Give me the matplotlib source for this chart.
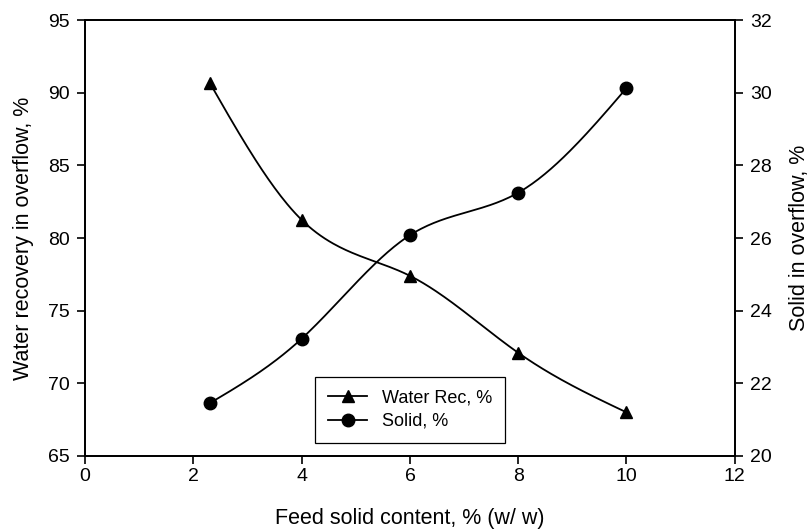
import numpy as np
import matplotlib
matplotlib.use('Agg')
import matplotlib.pyplot as plt
from matplotlib.lines import Line2D

# data
feed_solid = [2.3, 4.0, 6.0, 8.0, 10.0]
water_rec = [90.7, 81.25, 77.4, 72.1, 68.0]
solid_overflow = [21.45, 23.23, 26.08, 27.25, 30.13]


def spline_curve(x, y, n=200):
    """natural cubic spline through the points, for drawing the smooth line"""
    x = np.asarray(x, float)
    y = np.asarray(y, float)
    k = len(x)
    h = np.diff(x)
    A = np.zeros((k, k))
    b = np.zeros(k)
    A[0, 0] = A[-1, -1] = 1
    for i in range(1, k - 1):
        A[i, i - 1] = h[i - 1]
        A[i, i] = 2 * (h[i - 1] + h[i])
        A[i, i + 1] = h[i]
        b[i] = 3 * ((y[i + 1] - y[i]) / h[i] - (y[i] - y[i - 1]) / h[i - 1])
    c = np.linalg.solve(A, b)
    xs = np.linspace(x[0], x[-1], n)
    idx = np.clip(np.searchsorted(x, xs) - 1, 0, k - 2)
    dx = xs - x[idx]
    bb = (y[idx + 1] - y[idx]) / h[idx] - h[idx] * (2 * c[idx] + c[idx + 1]) / 3
    dd = (c[idx + 1] - c[idx]) / (3 * h[idx])
    ys = y[idx] + bb * dx + c[idx] * dx ** 2 + dd * dx ** 3
    return xs, ys


plt.rcParams['font.family'] = ['Liberation Sans', 'DejaVu Sans']
plt.rcParams['font.size'] = 14

fig = plt.figure(figsize=(8.11, 5.32), dpi=100)
ax = fig.add_axes([0.105, 0.143, 0.801, 0.819])
ax2 = ax.twinx()

xs, ys = spline_curve(feed_solid, water_rec)
ax.plot(xs, ys, color='black', lw=1.3)
ax.plot(feed_solid, water_rec, ls='none', marker='^', ms=9, color='black')

xs, ys = spline_curve(feed_solid, solid_overflow)
ax2.plot(xs, ys, color='black', lw=1.3)
ax2.plot(feed_solid, solid_overflow, ls='none', marker='o', ms=9, color='black')

ax.set_xlim(0, 12)
ax.set_ylim(65, 95)
ax2.set_ylim(20, 32)
ax.set_xticks(np.arange(0, 13, 2))
ax.set_yticks(np.arange(65, 96, 5))
ax2.set_yticks(np.arange(20, 33, 2))

for a in (ax, ax2):
    a.tick_params(direction='out', length=6, width=1.2, labelsize=14, pad=5)
    for s in a.spines.values():
        s.set_linewidth(1.3)
ax.tick_params(axis='x', pad=3)

ax.set_xlabel('Feed solid content, % (w/ w)', fontsize=15.5, labelpad=16)
ax.set_ylabel('Water recovery in overflow, %', fontsize=15.5, labelpad=10)
ax2.set_ylabel('Solid in overflow, %', fontsize=15.5, labelpad=12)

handles = [Line2D([], [], color='black', lw=1.3, marker='^', ms=9),
           Line2D([], [], color='black', lw=1.3, marker='o', ms=9)]
leg = ax.legend(handles, ['Water Rec, %', 'Solid, %'], loc='lower left',
                bbox_to_anchor=(0.34, 0.01), fancybox=False, edgecolor='black',
                framealpha=1, fontsize=13, handlelength=2.2, borderpad=0.7,
                labelspacing=0.35)
leg.get_frame().set_linewidth(0.9)

fig.savefig('out.png', dpi=100)
